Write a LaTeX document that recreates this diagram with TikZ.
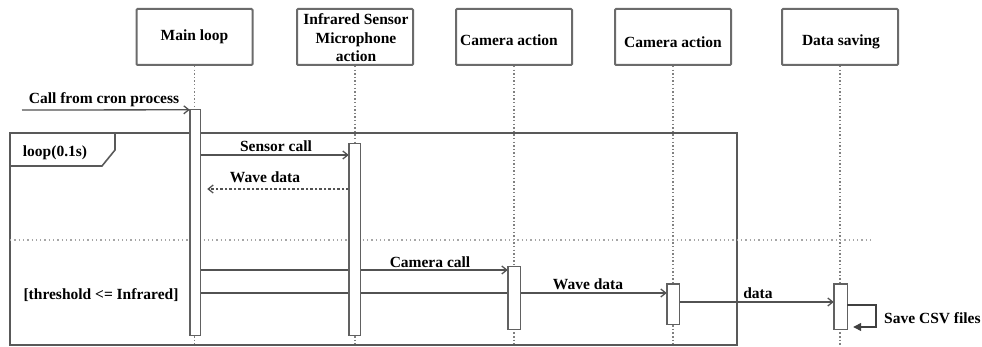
\documentclass[tikz,border=0pt]{standalone}
\usepackage{fontspec}
\setmainfont{Liberation Serif}
\usetikzlibrary{arrows.meta}
\begin{document}
\begin{tikzpicture}[x=1pt,y=-1pt,
  font=\fontsize{15.5}{18.5}\selectfont\bfseries,
  head/.style={draw=black!58, line width=2pt, rounded corners=1pt, minimum width=116pt, minimum height=56pt, inner sep=0pt, align=center},
  life/.style={draw=black!50, line width=1.6pt, dash pattern=on 1.5pt off 2.1pt},
  act/.style={draw=black!62, fill=white, line width=1.4pt, inner sep=0pt},
  msg/.style={draw=black!68, line width=1.3pt, -{Straight Barb[length=5pt,width=8pt,line width=1.3pt]}},
  ret/.style={msg, dash pattern=on 2.5pt off 2pt},
  frame/.style={draw=black!65, line width=1.6pt},
  sep/.style={draw=black!35, line width=1.3pt, dash pattern=on 1.3pt off 3pt},
  lbl/.style={inner sep=0pt, text=black}]
\useasboundingbox (0,0) rectangle (982,347);
% heads
\node[head] (main) at (194.5,37) {Main loop};
\node[head] (ir) at (355,37) {};
\node[lbl, align=center] (irt) at (356,38) {Infrared Sensor\\Microphone\\action};
\node[head] (cam1) at (514,37) {};
\node[lbl] (cam1t) at (509,40) {Camera action};
\node[head] (cam2) at (673,37) {};
\node[lbl] (cam2t) at (673,42) {Camera action};
\node[head] (save) at (840,37) {};
\node[lbl] (savet) at (841,42) {Data saving};
\coordinate (bot) at (0,348);
% lifelines
\foreach \n in {main,ir,cam1,cam2,save}{\draw[life] (\n.south) -- (\n.south |- bot);}
% frame
\draw[frame] (10,133) rectangle (737,345);
\draw[frame] (10,166) -- (102,166) -- (115,150) -- (115,133);
\node[lbl] (looplbl) at (55,153) {loop(0.1s)};
\draw[sep] (10,240) -- (872,240);
% activation bars (coordinates)
\path (195,222.5) node[minimum width=10pt, minimum height=225pt, inner sep=0pt] (amain) {};
\path (354.5,239.5) node[minimum width=11pt, minimum height=191pt, inner sep=0pt] (air) {};
\path (514,298) node[minimum width=12pt, minimum height=62pt, inner sep=0pt] (acam1) {};
\path (673,304) node[minimum width=12pt, minimum height=40pt, inner sep=0pt] (acam2) {};
\path (840.5,306.5) node[minimum width=13pt, minimum height=45pt, inner sep=0pt] (asave) {};
% messages
\coordinate (cron) at (22,110);
\draw[msg] (cron) -- (amain.north west);
\node[lbl] (cronl) at (104,100) {Call from cron process};
\draw[msg] (amain.east |- 0,155) -- (air.west |- 0,155);
\node[lbl] (sensl) at (276,146) {Sensor call};
\draw[ret, shorten >=7pt] (air.west |- 0,189) -- (amain.east |- 0,189);
\node[lbl] (wav1) at (265,177) {Wave data};
\draw[msg] (amain.east |- 0,270) -- (acam1.west |- 0,270);
\node[lbl] (caml) at (430,262) {Camera call};
\draw[msg] (amain.east |- 0,293) -- (acam2.west |- 0,293);
\node[lbl] (wav2) at (588,284) {Wave data};
\node[lbl] (thr) at (101,295) {[threshold <= Infrared]};
\draw[msg] (acam2.east |- 0,302) -- (asave.west |- 0,302);
\node[lbl] (datal) at (758,293) {data};
% bars drawn over lines
\foreach \b in {amain,air,acam1,acam2,asave}{\draw[act] (\b.south west) rectangle (\b.north east);}
% self call
\draw[draw=black!75, line width=1.3pt, -{Triangle[length=8pt,width=8pt]}] (asave.east |- 0,305) -- (876,305) -- (876,327) -- ([xshift=6pt]asave.east |- 0,327);
\node[lbl, anchor=west] (csv) at (884,318) {Save CSV files};
\end{tikzpicture}
\end{document}
